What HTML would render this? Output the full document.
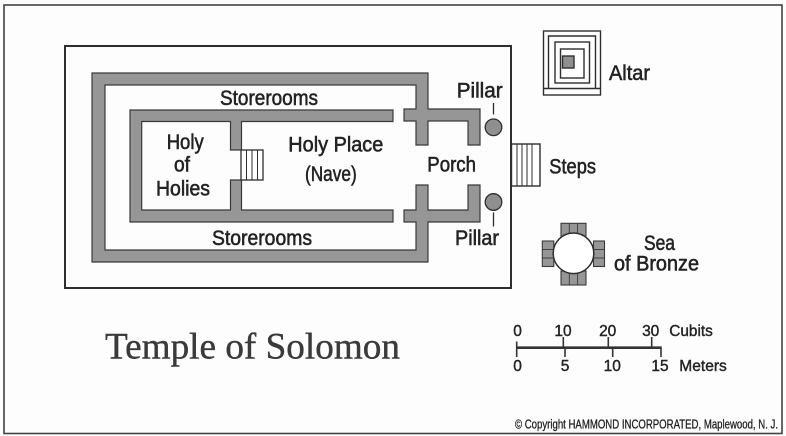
<!DOCTYPE html>
<html><head><meta charset="utf-8"><style>
html,body{margin:0;padding:0;background:#fff;}
svg{display:block;}
.l{font-family:"Liberation Sans Narrow","Liberation Sans",sans-serif;font-size:21px;fill:#222;stroke:#222;stroke-width:0.55px;}
.s{font-family:"Liberation Sans Narrow","Liberation Sans",sans-serif;font-size:15.5px;fill:#222;stroke:#222;stroke-width:0.4px;}
.c{font-family:"Liberation Sans Narrow","Liberation Sans",sans-serif;font-size:12.5px;fill:#222;stroke:#222;stroke-width:0.3px;}
.t{font-family:"Liberation Serif",serif;font-size:37px;fill:#3a3a3a;stroke:#3a3a3a;stroke-width:0.4px;}
</style></head><body>
<svg width="786" height="436" viewBox="0 0 786 436" xmlns="http://www.w3.org/2000/svg">
<rect x="0" y="0" width="786" height="436" fill="#fdfdfd"/>
<!-- frame -->
<rect x="4" y="5" width="778" height="428.5" fill="none" stroke="#444" stroke-width="1.6"/>
<!-- outer court rect -->
<rect x="65" y="46" width="446" height="242" fill="none" stroke="#2e2e2e" stroke-width="2"/>
<!-- outer storeroom wall + crosses -->
<polygon points="92,73 428,73 428,109 480,109 480,145 468,145 468,121 428,121 428,145 416,145 416,121 404,121 404,109 416,109 416,85 105,85 105,250 416,250 416,222 404,222 404,210 416,210 416,185 428,185 428,210 468,210 468,185 480,185 480,222 428,222 428,262 92,262" fill="#969696" stroke="#3a3a3a" stroke-width="1.2"/>
<!-- sanctuary wall -->
<polygon points="130,110 393,110 393,121.5 241.5,121.5 241.5,150 230.5,150 230.5,121.5 141.7,121.5 141.7,210 230.5,210 230.5,180 241.5,180 241.5,210 393,210 393,222 130,222" fill="#969696" stroke="#3a3a3a" stroke-width="1.2"/>
<!-- inner steps -->
<rect x="241" y="150" width="22" height="30" fill="#fff" stroke="#2e2e2e" stroke-width="1.3"/>
<line x1="246.5" y1="150" x2="246.5" y2="180" stroke="#2e2e2e" stroke-width="1"/>
<line x1="252" y1="150" x2="252" y2="180" stroke="#2e2e2e" stroke-width="1"/>
<line x1="257.5" y1="150" x2="257.5" y2="180" stroke="#2e2e2e" stroke-width="1"/>
<!-- outer steps -->
<rect x="511.5" y="144" width="28.5" height="42" fill="#fff" stroke="#2e2e2e" stroke-width="1.4"/>
<line x1="517" y1="144" x2="517" y2="186" stroke="#2e2e2e" stroke-width="1"/>
<line x1="522" y1="144" x2="522" y2="186" stroke="#2e2e2e" stroke-width="1"/>
<line x1="527" y1="144" x2="527" y2="186" stroke="#2e2e2e" stroke-width="1"/>
<line x1="532" y1="144" x2="532" y2="186" stroke="#2e2e2e" stroke-width="1"/>
<!-- pillars -->
<circle cx="493.5" cy="127.3" r="8.3" fill="#8f8f8f" stroke="#2e2e2e" stroke-width="1.3"/>
<circle cx="493.5" cy="202" r="8.3" fill="#8f8f8f" stroke="#2e2e2e" stroke-width="1.3"/>
<line x1="493.5" y1="103" x2="493.5" y2="114.5" stroke="#2e2e2e" stroke-width="1.3"/>
<line x1="493.5" y1="212.5" x2="493.5" y2="226.5" stroke="#2e2e2e" stroke-width="1.3"/>
<!-- altar -->
<g fill="none" stroke="#2e2e2e" stroke-width="1.4">
<rect x="543.5" y="31" width="57" height="64"/>
<line x1="543.5" y1="88.5" x2="600.5" y2="88.5"/>
<polyline points="548.5,88.5 548.5,36 595.5,36 595.5,88.5"/>
<rect x="555" y="42" width="34.5" height="41"/>
<rect x="560.5" y="49" width="23.5" height="29"/>
</g>
<rect x="562.5" y="56" width="11.5" height="12" fill="#8f8f8f" stroke="#2e2e2e" stroke-width="1.4"/>
<!-- sea of bronze -->
<g fill="#969696" stroke="#3a3a3a" stroke-width="1.1">
<rect x="561" y="223.3" width="25" height="13"/>
<rect x="561" y="271" width="25" height="14"/>
<rect x="542.3" y="241" width="11.5" height="25.5"/>
<rect x="593.5" y="241" width="11" height="25.5"/>
</g>
<g stroke="#3a3a3a" stroke-width="0.9">
<line x1="569.3" y1="223.3" x2="569.3" y2="236"/>
<line x1="577.6" y1="223.3" x2="577.6" y2="236"/>
<line x1="569.3" y1="271" x2="569.3" y2="285"/>
<line x1="577.6" y1="271" x2="577.6" y2="285"/>
<line x1="542.3" y1="249.5" x2="553.8" y2="249.5"/>
<line x1="542.3" y1="258" x2="553.8" y2="258"/>
<line x1="593.5" y1="249.5" x2="604.5" y2="249.5"/>
<line x1="593.5" y1="258" x2="604.5" y2="258"/>
</g>
<circle cx="573.5" cy="253.3" r="20.3" fill="#fff" stroke="#2e2e2e" stroke-width="1.5"/>
<!-- labels -->
<text class="l" x="220" y="105" textLength="98" lengthAdjust="spacingAndGlyphs">Storerooms</text>
<text class="l" x="212" y="245" textLength="100" lengthAdjust="spacingAndGlyphs">Storerooms</text>
<text class="l" x="166.7" y="149" textLength="37" lengthAdjust="spacingAndGlyphs">Holy</text>
<text class="l" x="174" y="171.5" textLength="16" lengthAdjust="spacingAndGlyphs">of</text>
<text class="l" x="156" y="195.5" textLength="54" lengthAdjust="spacingAndGlyphs">Holies</text>
<text class="l" x="288.3" y="151.7" textLength="95" lengthAdjust="spacingAndGlyphs">Holy Place</text>
<text class="l" x="305" y="181" textLength="51.7" lengthAdjust="spacingAndGlyphs">(Nave)</text>
<text class="l" x="427.3" y="171.7" textLength="48.7" lengthAdjust="spacingAndGlyphs">Porch</text>
<text class="l" x="456.7" y="97.3" textLength="46" lengthAdjust="spacingAndGlyphs">Pillar</text>
<text class="l" x="455" y="245" textLength="44" lengthAdjust="spacingAndGlyphs">Pillar</text>
<text class="l" x="609" y="80" textLength="41" lengthAdjust="spacingAndGlyphs">Altar</text>
<text class="l" x="549.3" y="173.3" textLength="46.7" lengthAdjust="spacingAndGlyphs">Steps</text>
<text class="l" x="644" y="250" textLength="31" lengthAdjust="spacingAndGlyphs">Sea</text>
<text class="l" x="614" y="270.7" textLength="85" lengthAdjust="spacingAndGlyphs">of Bronze</text>
<!-- title -->
<text class="t" x="105" y="358.3" textLength="295" lengthAdjust="spacingAndGlyphs">Temple of Solomon</text>
<!-- scale -->
<g stroke="#333" stroke-width="1.6">
<line x1="516.7" y1="347.7" x2="661.7" y2="347.7" stroke-width="2.6"/>
<line x1="516.7" y1="341.5" x2="516.7" y2="357"/>
<line x1="563.3" y1="337" x2="563.3" y2="347.7"/>
<line x1="608.3" y1="337" x2="608.3" y2="347.7"/>
<line x1="651.7" y1="337" x2="651.7" y2="347.7"/>
<line x1="565" y1="347.7" x2="565" y2="357"/>
<line x1="612.7" y1="347.7" x2="612.7" y2="357"/>
<line x1="661" y1="347.7" x2="661" y2="357"/>
</g>
<text class="s" x="517.5" y="336" text-anchor="middle">0</text>
<text class="s" x="563" y="336" text-anchor="middle">10</text>
<text class="s" x="607.7" y="336" text-anchor="middle">20</text>
<text class="s" x="650.7" y="336" text-anchor="middle">30</text>
<text class="s" x="669.3" y="336" textLength="43.5" lengthAdjust="spacingAndGlyphs">Cubits</text>
<text class="s" x="517.5" y="371" text-anchor="middle">0</text>
<text class="s" x="565" y="371" text-anchor="middle">5</text>
<text class="s" x="612.3" y="371" text-anchor="middle">10</text>
<text class="s" x="660" y="371" text-anchor="middle">15</text>
<text class="s" x="679.3" y="371" textLength="47.5" lengthAdjust="spacingAndGlyphs">Meters</text>
<!-- copyright -->
<text class="c" x="515" y="428.3" textLength="263" lengthAdjust="spacingAndGlyphs">© Copyright  HAMMOND  INCORPORATED, Maplewood, N. J.</text>
</svg>
</body></html>
